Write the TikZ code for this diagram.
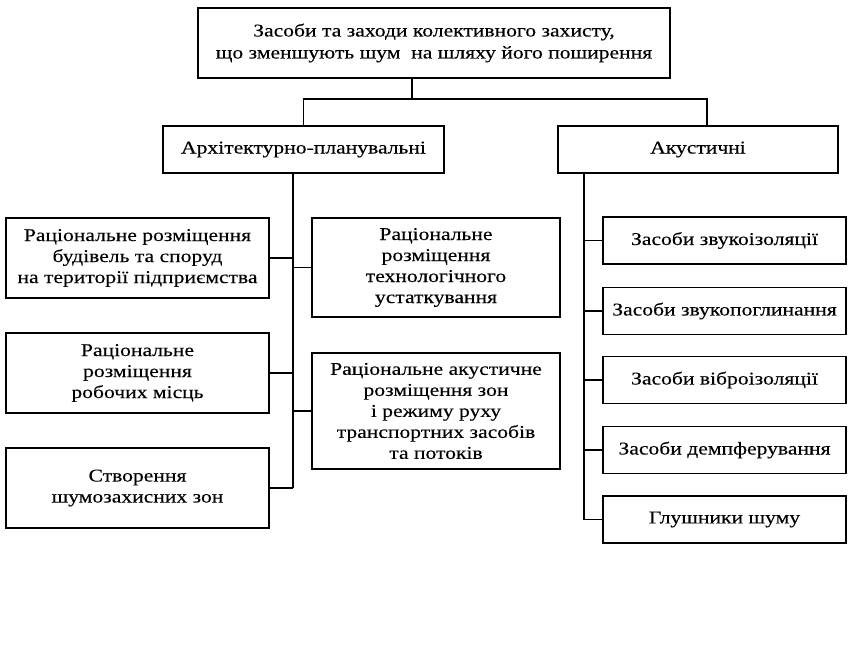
\documentclass[tikz,border=0pt]{standalone}
\usepackage{fontspec}
\setmainfont{Liberation Serif}[FakeStretch=1.2,FakeBold=0.2]
\begin{document}
\begin{tikzpicture}[x=1pt,y=-1pt,
  box/.style={draw,line width=1.8pt,rectangle,inner sep=0pt,align=center,
    font=\fontsize{18}{21}\selectfont},
  conn/.style={line width=1.8pt}]
\useasboundingbox (0,0) rectangle (852,647);
\node[box,minimum width=472,minimum height=70,font=\fontsize{18}{22}\selectfont] (top) at (434,43)
  {Засоби та заходи колективного захисту,\\що зменшують шум\ \ на шляху його поширення};
\node[box,minimum width=281,minimum height=47] (arch) at (303.5,149.5) {Архітектурно-планувальні};
\node[box,minimum width=280,minimum height=47] (akust) at (698,149.5) {Акустичні};
\node[box,minimum width=263,minimum height=80] (b1) at (137.5,258) {Раціональне розміщення\\будівель та споруд\\на території підприємства};
\node[box,minimum width=263,minimum height=80] (b2) at (137.5,373) {Раціональне\\розміщення\\робочих місць};
\node[box,minimum width=263,minimum height=80] (b3) at (137.5,488) {Створення\\шумозахисних зон};
\node[box,minimum width=248,minimum height=99] (bA) at (436,267.5) {Раціональне\\розміщення\\технологічного\\устаткування};
\node[box,minimum width=248,minimum height=116] (bB) at (436,411) {Раціональне акустичне\\розміщення зон\\і режиму руху\\транспортних засобів\\та потоків};
\node[box,minimum width=243,minimum height=47] (r1) at (724.5,240.5) {Засоби звукоізоляції};
\node[box,minimum width=243,minimum height=47] (r2) at (724.5,311) {Засоби звукопоглинання};
\node[box,minimum width=243,minimum height=47] (r3) at (724.5,380) {Засоби віброізоляції};
\node[box,minimum width=243,minimum height=47] (r4) at (724.5,450) {Засоби демпферування};
\node[box,minimum width=243,minimum height=47] (r5) at (724.5,519.5) {Глушники шуму};
\coordinate (j) at (412,99);
\coordinate (lt) at (293,0);
\coordinate (rt) at (584,0);
\coordinate (ak) at (707,0);
\draw[conn] (top.south -| j) -- (j);
\draw[conn] (arch.north) |- (j) -| (akust.north -| ak);
\draw[conn] (arch.south -| lt) -- (b3.east -| lt);
\foreach \n in {b1,b2,b3} \draw[conn] (\n.east) -- (\n.east -| lt);
\foreach \n in {bA,bB} \draw[conn] (\n.west) -- (\n.west -| lt);
\draw[conn] (akust.south -| rt) -- (r5.west -| rt);
\foreach \n in {r1,r2,r3,r4,r5} \draw[conn] (\n.west) -- (\n.west -| rt);
\end{tikzpicture}
\end{document}
